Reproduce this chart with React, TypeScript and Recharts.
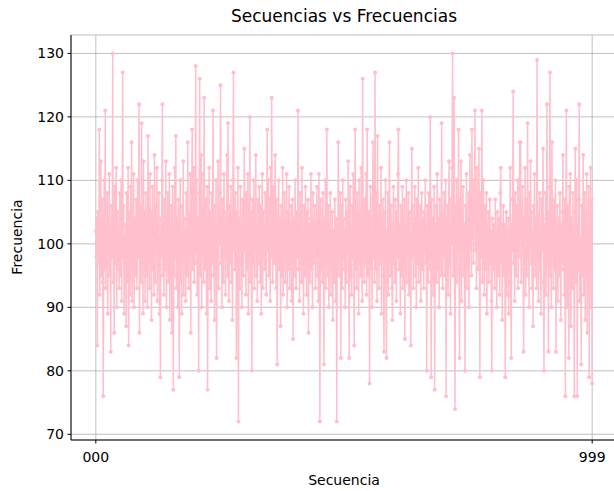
import { LineChart, Line, XAxis, YAxis, CartesianGrid, Label } from "recharts";

// frecuencia por secuencia 000..999
const frecuencias: number[] = [
    102, 98, 104, 84, 105, 97, 101, 118, 92, 100, 113, 95, 99, 107, 94, 76, 103, 110, 96, 121,
    93, 101, 97, 108, 89, 104, 99, 111, 95, 102, 83, 106, 98, 100, 130, 94, 103, 86, 109, 97,
    101, 112, 90, 99, 105, 96, 102, 93, 108, 100, 95, 110, 91, 104, 127, 98, 106, 89, 101, 97,
    103, 87, 108, 99, 94, 112, 84, 100, 105, 92, 109, 97, 116, 91, 102, 96, 111, 90, 104, 99,
    95, 107, 100, 93, 110, 98, 103, 122, 86, 101, 106, 94, 119, 97, 102, 89, 113, 99, 105, 91,
    100, 108, 95, 104, 90, 117, 98, 102, 93, 111, 97, 105, 88, 101, 109, 96, 103, 92, 114, 99,
    94, 106, 100, 112, 91, 103, 97, 108, 89, 101, 79, 104, 98, 110, 122, 95, 102, 92, 107, 100,
    96, 113, 90, 104, 99, 108, 94, 101, 111, 88, 103, 97, 106, 86, 100, 109, 77, 102, 95, 112,
    98, 117, 93, 104, 100, 90, 107, 96, 79, 103, 110, 94, 101, 89, 106, 99, 113, 92, 104, 97,
    102, 91, 108, 99, 95, 116, 100, 93, 105, 98, 111, 86, 103, 107, 118, 96, 101, 112, 94, 105,
    99, 128, 97, 110, 92, 104, 101, 80, 108, 126, 95, 103, 114, 90, 106, 99, 111, 94, 123, 100,
    96, 107, 102, 89, 109, 77, 104, 98, 112, 93, 105, 100, 91, 108, 97, 103, 121, 95, 101, 88,
    106, 99, 110, 82, 102, 96, 113, 93, 104, 100, 108, 125, 97, 103, 90, 107, 101, 94, 111, 98,
    105, 92, 103, 99, 114, 95, 119, 100, 91, 106, 102, 97, 109, 94, 104, 88, 110, 127, 99, 103,
    96, 108, 101, 82, 105, 98, 112, 72, 104, 100, 93, 109, 97, 103, 90, 107, 100, 95, 106, 115,
    99, 104, 92, 108, 101, 96, 111, 89, 103, 98, 120, 94, 105, 100, 80, 107, 97, 102, 110, 93,
    104, 99, 114, 95, 101, 91, 107, 103, 97, 109, 100, 94, 106, 89, 102, 111, 93, 105, 98, 103,
    96, 108, 100, 92, 104, 118, 99, 110, 95, 103, 107, 91, 112, 98, 123, 101, 94, 109, 102, 97,
    105, 114, 99, 93, 107, 81, 103, 100, 110, 96, 104, 98, 87, 106, 101, 95, 112, 92, 103, 99,
    108, 94, 101, 97, 111, 90, 105, 100, 96, 109, 93, 103, 98, 106, 91, 102, 107, 85, 104, 99,
    95, 110, 100, 93, 105, 98, 102, 121, 96, 104, 91, 108, 99, 103, 94, 112, 97, 101, 89, 106,
    100, 95, 109, 102, 92, 105, 98, 107, 86, 103, 99, 94, 104, 111, 96, 101, 90, 108, 97, 103,
    100, 106, 93, 102, 98, 109, 95, 104, 91, 111, 99, 72, 103, 107, 96, 101, 94, 108, 100, 81,
    104, 97, 110, 93, 102, 118, 99, 95, 106, 90, 103, 98, 108, 92, 101, 96, 105, 88, 102, 99,
    94, 107, 100, 91, 104, 72, 102, 97, 116, 95, 103, 99, 108, 82, 101, 106, 93, 110, 98, 104,
    96, 102, 90, 107, 99, 94, 105, 100, 113, 97, 82, 103, 109, 95, 101, 92, 106, 98, 111, 100,
    84, 104, 118, 96, 102, 93, 108, 99, 105, 89, 110, 97, 101, 95, 112, 100, 91, 126, 98, 103,
    94, 107, 100, 97, 111, 92, 118, 101, 95, 105, 99, 78, 104, 109, 96, 102, 90, 107, 116, 98,
    103, 94, 127, 100, 96, 108, 91, 117, 99, 104, 93, 106, 101, 97, 112, 89, 103, 98, 107, 95,
    83, 105, 100, 110, 94, 82, 102, 97, 108, 92, 104, 116, 99, 95, 106, 101, 93, 88, 103, 109,
    97, 102, 94, 107, 100, 91, 105, 98, 111, 118, 96, 103, 99, 89, 106, 101, 95, 109, 93, 104,
    100, 107, 85, 102, 97, 110, 94, 103, 99, 108, 92, 105, 101, 96, 84, 104, 115, 98, 106, 93,
    102, 99, 109, 95, 104, 90, 107, 100, 97, 112, 94, 103, 98, 106, 91, 101, 108, 96, 104, 99,
    93, 105, 100, 110, 97, 102, 80, 106, 99, 94, 108, 101, 96, 120, 103, 79, 107, 98, 104, 92,
    101, 109, 77, 103, 98, 106, 94, 111, 100, 96, 104, 90, 107, 99, 102, 95, 119, 100, 93, 105,
    98, 108, 101, 95, 110, 76, 104, 99, 106, 92, 103, 113, 97, 101, 89, 107, 100, 112, 130, 95,
    103, 123, 98, 74, 106, 101, 110, 94, 104, 99, 118, 96, 82, 107, 102, 113, 91, 105, 100, 109,
    95, 103, 98, 80, 106, 101, 111, 93, 104, 97, 108, 90, 102, 114, 99, 105, 95, 118, 101, 107,
    97, 110, 103, 121, 99, 106, 93, 112, 100, 104, 96, 115, 101, 79, 108, 98, 105, 121, 94, 103,
    110, 99, 92, 106, 101, 96, 108, 89, 103, 98, 105, 94, 100, 107, 97, 102, 91, 80, 104, 99,
    96, 103, 100, 93, 107, 98, 102, 90, 105, 99, 95, 104, 101, 92, 108, 112, 97, 103, 88, 101,
    106, 95, 100, 103, 79, 98, 105, 92, 101, 96, 104, 89, 102, 97, 112, 94, 82, 103, 99, 107,
    124, 97, 103, 91, 108, 100, 95, 106, 99, 110, 93, 104, 98, 116, 101, 116, 94, 105, 100, 109,
    96, 83, 104, 99, 112, 92, 107, 101, 95, 119, 98, 103, 90, 108, 100, 113, 97, 105, 93, 102,
    87, 106, 99, 111, 95, 104, 101, 93, 129, 98, 105, 91, 102, 108, 96, 100, 89, 107, 99, 104,
    115, 94, 80, 103, 98, 108, 92, 101, 122, 97, 105, 83, 100, 109, 127, 95, 102, 90, 116, 99,
    104, 93, 107, 100, 96, 110, 83, 102, 98, 106, 91, 104, 100, 95, 108, 99, 88, 103, 97, 105,
    114, 96, 101, 92, 107, 76, 103, 121, 98, 90, 106, 100, 82, 109, 95, 111, 87, 104, 99, 93,
    108, 97, 102, 76, 105, 115, 94, 100, 110, 76, 103, 96, 107, 122, 91, 101, 99, 81, 106, 95,
    103, 114, 92, 100, 108, 88, 105, 97, 111, 86, 102, 94, 109, 79, 104, 98, 112, 90, 107, 78,
];

const xTicks = [0, 999];
const yTicks = [70, 80, 90, 100, 110, 120, 130];

const data = frecuencias.map((f, i) => ({ secuencia: i, frecuencia: f }));

const FONT = "DejaVu Sans, sans-serif";
const tickStyle = { fill: "#000", fontSize: 14, fontFamily: FONT };

export default function App() {
    return (
        <div
            style={{
                position: "fixed",
                left: 0,
                top: 0,
                width: 614,
                height: 491,
                overflow: "hidden",
                background: "#fff",
            }}
        >
            <div
                style={{
                    position: "absolute",
                    left: 0,
                    width: 688,
                    top: 6,
                    textAlign: "center",
                    fontFamily: FONT,
                    fontSize: 17,
                    color: "#000",
                    lineHeight: "20px",
                }}
            >
                Secuencias vs Frecuencias
            </div>
            <LineChart
                width={640}
                height={491}
                data={data}
                margin={{ top: 35, right: 23, bottom: 0, left: 10 }}
            >
                <CartesianGrid stroke="#b0b0b0" strokeWidth={0.8} />
                <XAxis
                    dataKey="secuencia"
                    type="number"
                    domain={[-49.95, 1048.95]}
                    ticks={xTicks}
                    allowDataOverflow
                    tickFormatter={(v: number) => String(v).padStart(3, "0")}
                    tick={tickStyle}
                    tickSize={3.5}
                    tickMargin={9}
                    height={51}
                    stroke="#000"
                >
                    <Label
                        content={() => (
                            <text x={344} y={485} textAnchor="middle" fontFamily={FONT} fontSize={14} fill="#000">
                                Secuencia
                            </text>
                        )}
                    />
                </XAxis>
                <XAxis
                    xAxisId="top"
                    orientation="top"
                    type="number"
                    domain={[-49.95, 1048.95]}
                    tick={false}
                    tickLine={false}
                    height={0}
                    stroke="#000"
                />
                <YAxis
                    type="number"
                    domain={[69.1, 132.9]}
                    ticks={yTicks}
                    allowDataOverflow
                    tick={tickStyle}
                    tickSize={3.5}
                    tickMargin={3.5}
                    width={61}
                    stroke="#000"
                >
                    <Label
                        content={() => (
                            <text
                                x={22}
                                y={237}
                                textAnchor="middle"
                                fontFamily={FONT}
                                fontSize={14}
                                fill="#000"
                                transform="rotate(-90, 22, 237)"
                            >
                                Frecuencia
                            </text>
                        )}
                    />
                </YAxis>
                <Line
                    type="linear"
                    dataKey="frecuencia"
                    stroke="#ffc0cb"
                    strokeWidth={1.5}
                    dot={{ r: 2, fill: "#ffc0cb", stroke: "none" }}
                    activeDot={false}
                    isAnimationActive={false}
                />
            </LineChart>
        </div>
    );
}
